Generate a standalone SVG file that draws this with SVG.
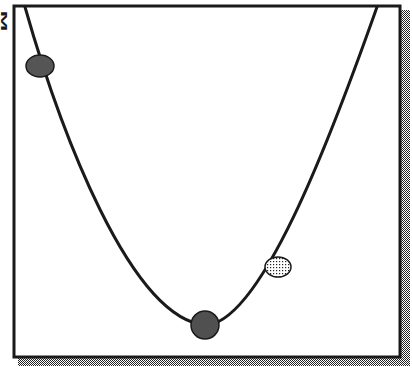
<svg xmlns="http://www.w3.org/2000/svg" width="412" height="370" viewBox="0 0 412 370">
<style>
.frame{fill:#fff;stroke:#1a1a1a;stroke-width:3}
.curve{fill:none;stroke:#1a1a1a;stroke-width:3;stroke-linecap:round}
.ball{stroke:#1a1a1a;stroke-width:1.5}
</style>
<defs>
<pattern id="checker" width="2" height="2" patternUnits="userSpaceOnUse">
<rect width="2" height="2" fill="#fff"/>
<rect width="1" height="1" fill="#222"/>
<rect x="1" y="1" width="1" height="1" fill="#222"/>
</pattern>
<pattern id="dots" width="3" height="3" patternUnits="userSpaceOnUse">
<rect width="3" height="3" fill="#fff"/>
<rect width="1.2" height="1.2" fill="#222"/>
</pattern>
</defs>
<rect x="0" y="0" width="412" height="370" fill="#fff"/>
<g id="shadow">
<rect x="401" y="10" width="9" height="356" fill="url(#checker)"/>
<rect x="18" y="358" width="392" height="8" fill="url(#checker)"/>
</g>
<g id="frame">
<rect class="frame" x="14" y="6" width="386" height="351"/>
</g>
<text x="0" y="0" transform="translate(1,21) rotate(90)" font-family="Liberation Sans, Arial, sans-serif" font-size="9" font-weight="bold" fill="#1a1a1a" text-anchor="middle" textLength="21" lengthAdjust="spacingAndGlyphs">M</text>
<g id="connectors">
<path class="curve" d="M25,7 C60,130 130,318 205,325 C260,325 330,140 377,7"/>
</g>
<g id="ball-left">
<ellipse class="ball" cx="40" cy="66" rx="14" ry="11" fill="#555"/>
</g>
<g id="ball-bottom">
<circle class="ball" cx="205" cy="325" r="14" fill="#505050"/>
</g>
<g id="ball-right">
<ellipse class="ball" cx="278" cy="267" rx="13" ry="10" fill="url(#dots)" stroke-width="2"/>
</g>
</svg>
